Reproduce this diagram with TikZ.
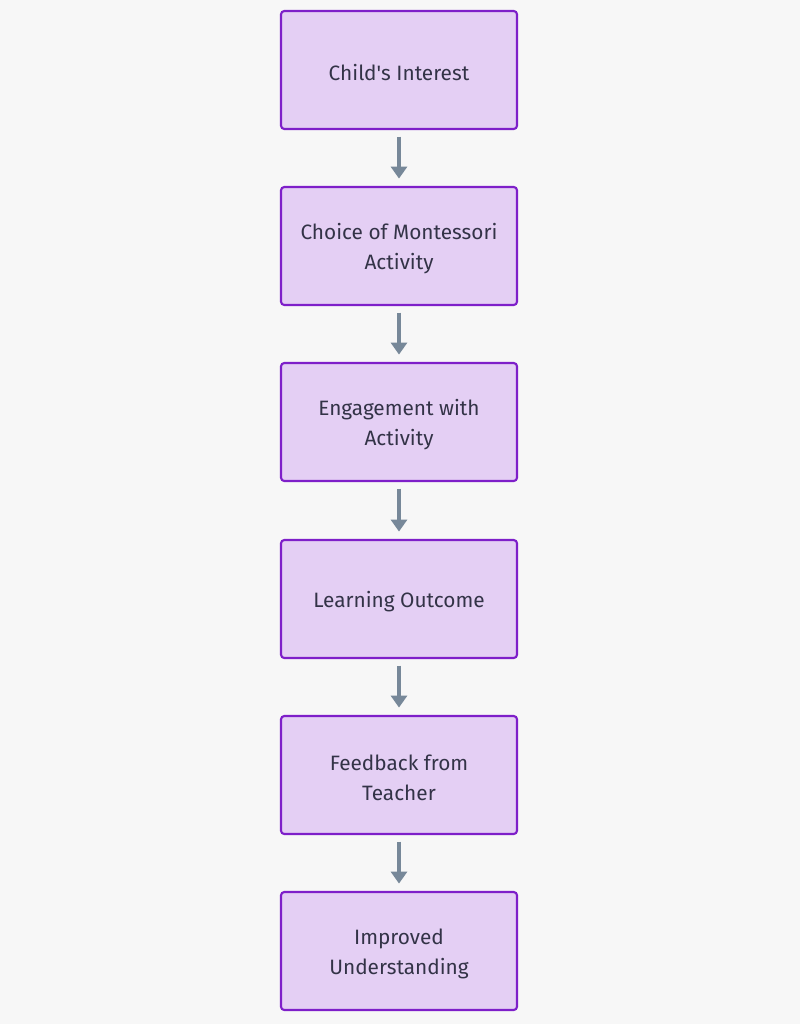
\documentclass[tikz,border=0pt]{standalone}
\usepackage{fontspec}
\setmainfont{Fira Sans}
\usetikzlibrary{arrows.meta}
\definecolor{bg}{HTML}{F7F7F7}
\definecolor{boxfill}{HTML}{E4CFF4}
\definecolor{boxline}{HTML}{7E1FC9}
\definecolor{arrowc}{HTML}{778899}
\definecolor{txt}{HTML}{333347}
\tikzset{
  stepbox/.style={draw=boxline, fill=boxfill, line width=1.6pt, rounded corners=2.5pt,
    minimum width=177pt, minimum height=88.5pt, inner sep=0pt},
  lbl/.style={align=center, text=txt, font=\fontsize{15.6}{22.5}\selectfont, inner sep=0pt, yshift=-2.2pt},
  flow/.style={draw=arrowc, line width=3pt, -{Triangle[length=9pt,width=12pt]}, shorten >=0.5pt}
}
\begin{document}
\begin{tikzpicture}[x=0.75pt,y=-0.75pt]
\useasboundingbox[fill=bg] (0,0) rectangle (800,1024);
\node[stepbox] (a) at (399,70) {};
\node[stepbox] (b) at (399,246) {};
\node[stepbox] (c) at (399,422) {};
\node[stepbox] (d) at (399,599) {};
\node[stepbox] (e) at (399,775) {};
\node[stepbox] (f) at (399,951) {};
\node[lbl] (ta) at (a) {Child\textquotesingle s Interest};
\node[lbl] (tb) at (b) {Choice of Montessori\\Activity};
\node[lbl] (tc) at (c) {Engagement with\\Activity};
\node[lbl] (td) at (d) {Learning Outcome};
\node[lbl] (te) at (e) {Feedback from\\Teacher};
\node[lbl] (tf) at (f) {Improved\\Understanding};
\draw[flow] ([yshift=-5pt]a.south) -- ([yshift=5pt]b.north);
\draw[flow] ([yshift=-5pt]b.south) -- ([yshift=5pt]c.north);
\draw[flow] ([yshift=-5pt]c.south) -- ([yshift=5pt]d.north);
\draw[flow] ([yshift=-5pt]d.south) -- ([yshift=5pt]e.north);
\draw[flow] ([yshift=-5pt]e.south) -- ([yshift=5pt]f.north);
\end{tikzpicture}
\end{document}
